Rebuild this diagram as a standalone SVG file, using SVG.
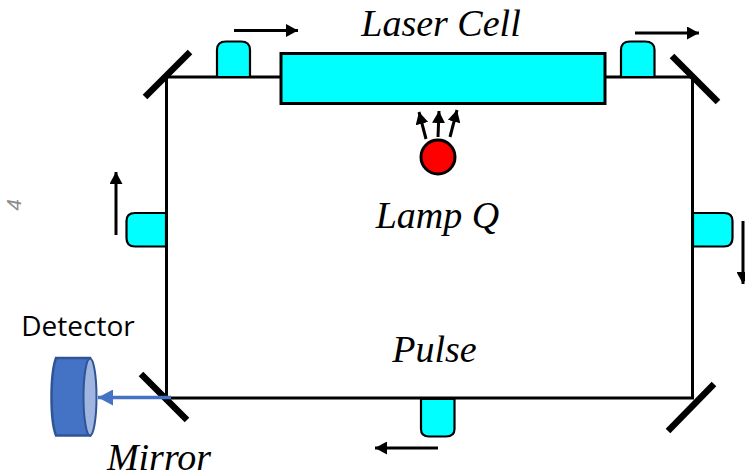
<svg xmlns="http://www.w3.org/2000/svg" width="745" height="472" viewBox="0 0 745 472">
<style>
.t{font-family:"Liberation Serif",serif;font-style:italic;font-size:38px;fill:#000}
.box{fill:#00ffff;stroke:#000;stroke-width:3}
.pad{fill:#00ffff;stroke:#000;stroke-width:2.2}
.mir{stroke:#000;stroke-width:6.5;fill:none}
.ln{stroke:#000;stroke-width:3;fill:none}
.a{stroke:#000;stroke-width:3;fill:none;marker-end:url(#h)}
</style>
<defs>
<marker id="h" markerUnits="userSpaceOnUse" markerWidth="13" markerHeight="13" refX="12" refY="6.5" orient="auto"><path d="M0 0L12 6.5L0 13Z" fill="#000"/></marker>
<marker id="b" markerUnits="userSpaceOnUse" markerWidth="16" markerHeight="16" refX="15" refY="8" orient="auto"><path d="M0 0L15 8L0 16Z" fill="#4472c4"/></marker>
</defs>
<g id="connectors">
<path class="ln" d="M166.500 77H692.500V398H166.500Z"/>
<path class="a" d="M234 30.500H298"/>
<path class="a" d="M635 33H699"/>
<path class="a" d="M116 235V172"/>
<path class="a" d="M743 221V284"/>
<path class="a" d="M438 448H375"/>
<path class="a" d="M426 139L419 112"/>
<path class="a" d="M438 137L439 111"/>
<path class="a" d="M450 137L457 110"/>
</g>
<g id="mirror-tl"><path class="mir" d="M190 52L145 97"/></g>
<g id="mirror-tr"><path class="mir" d="M672 56L718 102"/></g>
<g id="mirror-bl"><path class="mir" d="M141 374L187 420"/></g>
<g id="mirror-br"><path class="mir" d="M714 384L668 431"/></g>
<g id="pad-top-left"><path class="pad" d="M217 77V50Q217 41.500 226 41.500H241Q250 41.500 250 50V77Z"/></g>
<g id="pad-top-right"><path class="pad" d="M621 77V50Q621 41.500 630 41.500H645Q654.500 41.500 654.500 50V77Z"/></g>
<g id="pad-left"><path class="pad" d="M166 213H135Q126.500 213 126.500 221V238Q126.500 246.500 135 246.500H166Z"/></g>
<g id="pad-right"><path class="pad" d="M693 213H724Q732.500 213 732.500 221V238Q732.500 246.500 724 246.500H693Z"/></g>
<g id="pad-bottom"><path class="pad" d="M421 399V429Q421 436.500 429 436.500H446Q454.500 436.500 454.500 429V399Z"/></g>
<g id="laser-cell"><rect class="box" x="281" y="53.500" width="324" height="50"/>
<text class="t" x="441" y="36" text-anchor="middle">Laser Cell</text></g>
<g id="lamp"><circle cx="438" cy="157" r="17" fill="#ff0000" stroke="#000" stroke-width="3"/>
<text class="t" x="437.500" y="228" text-anchor="middle">Lamp Q</text></g>
<g id="pulse"><text class="t" x="434.500" y="362" text-anchor="middle">Pulse</text></g>
<g id="page-number"><text x="21" y="205" transform="rotate(-90 21 205)" text-anchor="middle" font-family="Liberation Sans,sans-serif" font-style="italic" font-size="21" fill="#8c8c8c">4</text></g>
<g id="detector">
<path d="M56 358H90V435.500H56C50 420 50 375 56 358Z" fill="#4472c4" stroke="#2f5597" stroke-width="2.500"/>
<ellipse cx="90" cy="397" rx="6.500" ry="38.500" fill="#a0b5e0" stroke="#2f5597" stroke-width="2"/>
<text x="78" y="336" text-anchor="middle" font-family="Open Sans,sans-serif" font-size="28" fill="#000">Detector</text>
</g>
<path d="M171 397.500H98" stroke="#4472c4" stroke-width="3.500" fill="none" marker-end="url(#b)"/>
<g id="mirror-label"><text class="t" x="159" y="469.500" text-anchor="middle">Mirror</text></g>
</svg>
